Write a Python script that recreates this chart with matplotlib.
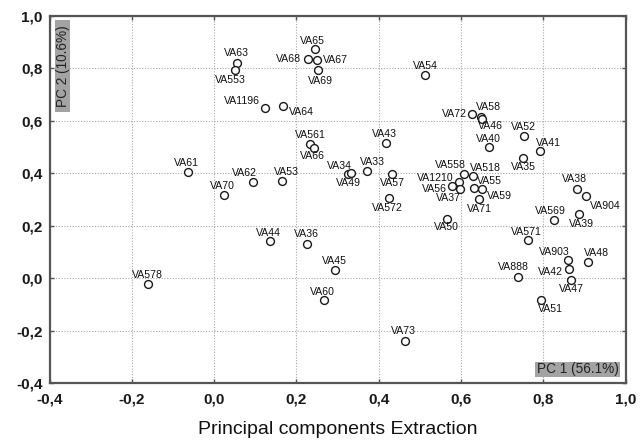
import matplotlib
matplotlib.use("Agg")
import matplotlib.pyplot as plt
from matplotlib.patches import Rectangle
from matplotlib.ticker import FuncFormatter

plt.rcParams['font.family'] = ['Liberation Sans', 'DejaVu Sans']

# ---- data ----
names = ["VA63", "VA553", "VA1196", "VA64", "VA65", "VA68", "VA67", "VA69",
         "VA54", "VA72", "VA58", "VA46", "VA40", "VA52", "VA41", "VA35",
         "VA561", "VA66", "VA43", "VA34", "VA49", "VA33", "VA57", "VA572",
         "VA558", "VA518", "VA1210", "VA56", "VA37", "VA55", "VA59", "VA71",
         "VA38", "VA904", "VA39", "VA569", "VA571", "VA50", "VA903", "VA48",
         "VA42", "VA888", "VA47", "VA51", "VA73", "VA45", "VA578", "VA44",
         "VA36", "VA60", "VA61", "VA70", "VA62", "VA53"]
pc1 = [0.056, 0.050, 0.123, 0.168, 0.246, 0.228, 0.251, 0.252,
       0.513, 0.628, 0.648, 0.652, 0.669, 0.754, 0.791, 0.752,
       0.234, 0.242, 0.418, 0.325, 0.333, 0.372, 0.433, 0.425,
       0.607, 0.629, 0.596, 0.578, 0.598, 0.631, 0.652, 0.644,
       0.882, 0.903, 0.888, 0.826, 0.763, 0.567, 0.860, 0.908,
       0.862, 0.739, 0.868, 0.795, 0.465, 0.294, -0.161, 0.137,
       0.225, 0.267, -0.064, 0.025, 0.095, 0.164]
pc2 = [0.822, 0.793, 0.648, 0.655, 0.873, 0.835, 0.831, 0.793,
       0.775, 0.625, 0.613, 0.607, 0.501, 0.542, 0.485, 0.457,
       0.510, 0.495, 0.516, 0.396, 0.400, 0.407, 0.397, 0.304,
       0.397, 0.390, 0.368, 0.351, 0.339, 0.344, 0.339, 0.300,
       0.340, 0.312, 0.243, 0.223, 0.145, 0.224, 0.069, 0.061,
       0.035, 0.004, -0.009, -0.084, -0.239, 0.032, -0.024, 0.141,
       0.132, -0.085, 0.403, 0.319, 0.366, 0.370]

x_ticks = [-0.4, -0.2, 0.0, 0.2, 0.4, 0.6, 0.8, 1.0]
y_ticks = [-0.4, -0.2, 0.0, 0.2, 0.4, 0.6, 0.8, 1.0]
x_label = "Principal components Extraction"
pc1_label = "PC 1 (56.1%)"
pc2_label = "PC 2 (10.6%)"

# label placement (offset of label centre from point, in pixels, y up)
label_offsets = [(-1, 9.4), (-4.3, -9.7), (-22.3, 7.3), (18.1, -5.4), (-3, 8.6), (-19.3, 0.6),
                 (17.7, 0.3), (2.2, -10.4), (0, 9), (-18.5, 0), (8, 10), (8, -7),
                 (-0.6, 8), (-1, 8.7), (9, 8.3), (0, -9), (0.5, 9), (-1, -7.7),
                 (-1.2, 8.7), (-8.5, 8.6), (-2.7, -10), (5, 9.3), (0.5, -9.3), (-1.2, -9.4),
                 (-13.7, 9), (12.6, 8), (-24.5, 4), (-17.7, -3), (-11.2, -9), (15.9, 6.7),
                 (16.8, -6.7), (0, -9.7), (-2.2, 10), (20, -9.4), (1.9, -9.7), (-3.7, 8.7),
                 (-1.2, 8.3), (-0.7, -7.4), (-13.2, 8.3), (8.6, 8.7), (-18.7, -3), (-5.2, 10.3),
                 (0, -9), (9.3, -9), (-2, 10), (-1, 8.7), (-0.6, 9.3), (-2.2, 8.3),
                 (-0.7, 9.3), (-1.6, 8.6), (-1.5, 9.6), (-1.8, 8.6), (-9, 9.3), (4.7, 8.7)]

# ---- figure ----
fig = plt.figure(figsize=(6.44, 4.44), dpi=100)
ax = fig.add_axes([0.0769, 0.1374, 0.8944, 0.8266])

ax.scatter(pc1, pc2, s=32, facecolors='white', edgecolors='#1a1a1a',
           linewidths=1.0, zorder=3)

px2pt = 72.0 / 100.0
for n, x, y, (dx, dy) in zip(names, pc1, pc2, label_offsets):
    ax.annotate(n, (x, y), xytext=(dx * px2pt, dy * px2pt), textcoords='offset points',
                ha='center', va='center', fontsize=7.6, color='#111111', zorder=4)

ax.set_xlim(-0.4, 1.0)
ax.set_ylim(-0.4, 1.0)
ax.set_xticks(x_ticks)
ax.set_yticks(y_ticks)
fmt = FuncFormatter(lambda v, p: ("%.1f" % v).replace('.', ','))
ax.xaxis.set_major_formatter(fmt)
ax.yaxis.set_major_formatter(fmt)

ax.grid(True, linestyle=(0, (1, 1.5)), color='#a8a8a8', linewidth=0.8, zorder=0)
ax.set_axisbelow(True)
for sp in ax.spines.values():
    sp.set_color('#555555')
    sp.set_linewidth(1.6)
ax.tick_params(direction='in', length=3, width=1, color='#555555',
               top=True, right=True, labelsize=11, labelcolor='#1a1a1a')
ax.tick_params(axis='x', pad=7)
ax.tick_params(axis='y', pad=5)
for lab in ax.get_xticklabels() + ax.get_yticklabels():
    lab.set_fontweight('bold')

ax.set_xlabel(x_label, fontsize=14, color='#111111', labelpad=10)

# PC boxes
ax.add_patch(Rectangle((0.843, 0.0163), 0.1476, 0.0417, transform=ax.transAxes,
                       facecolor='#a3a3a3', edgecolor='none', zorder=5))
ax.text(0.9167, 0.0373, pc1_label, transform=ax.transAxes, ha='center', va='center',
        fontsize=9.8, color='#222222', zorder=6)
ax.add_patch(Rectangle((0.0095, 0.7384), 0.026, 0.2507, transform=ax.transAxes,
                       facecolor='#a3a3a3', edgecolor='none', zorder=5))
ax.text(0.0226, 0.8638, pc2_label, transform=ax.transAxes, ha='center', va='center',
        rotation=90, fontsize=9.8, color='#222222', zorder=6)

fig.savefig("out.png", dpi=100)
